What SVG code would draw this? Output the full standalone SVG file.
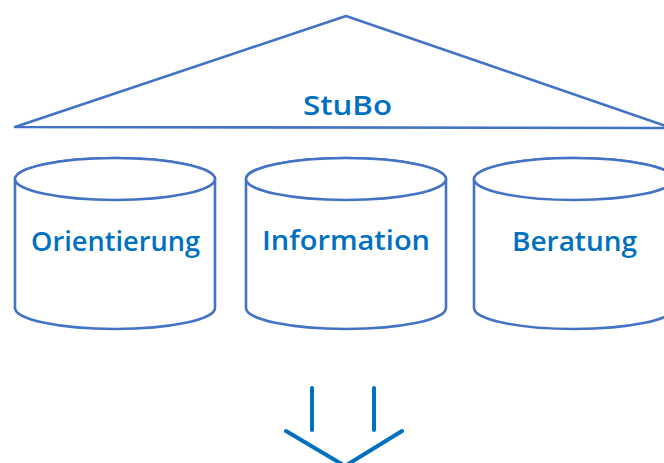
<svg xmlns="http://www.w3.org/2000/svg" width="664" height="463" viewBox="0 0 664 463">
<style>
.shape{fill:#fff;stroke:#4472c4;stroke-width:2.6;stroke-linejoin:round}
.lbl{font-family:"Open Sans","Liberation Sans",Arial,sans-serif;font-weight:600;font-size:27.5px;fill:#0070c0}
.arr{stroke:#0070c0;stroke-width:4;fill:none;stroke-linecap:round}
</style>
<rect width="664" height="463" fill="#fff"/>
<g id="stubo">
<polygon class="shape" points="346,16 15,127 672,128"/>
<text class="lbl" x="303" y="115" textLength="89" lengthAdjust="spacingAndGlyphs">StuBo</text>
</g>
<g id="orientierung">
<path class="shape" d="M15,179 L15,308 A100,21 0 0 0 215,308 L215,179 A100,21 0 0 0 15,179 Z"/>
<ellipse class="shape" cx="115" cy="179" rx="100" ry="21" fill="none"/>
<text class="lbl" x="31" y="251" textLength="169" lengthAdjust="spacingAndGlyphs">Orientierung</text>
</g>
<g id="information">
<path class="shape" d="M246,179 L246,308 A100,21 0 0 0 446,308 L446,179 A100,21 0 0 0 246,179 Z"/>
<ellipse class="shape" cx="346" cy="179" rx="100" ry="21" fill="none"/>
<text class="lbl" x="262" y="250" font-size="28.5" textLength="168" lengthAdjust="spacingAndGlyphs">Information</text>
</g>
<g id="beratung">
<path class="shape" d="M474,179 L474,308 A100,21 0 0 0 674,308 L674,179 A100,21 0 0 0 474,179 Z"/>
<ellipse class="shape" cx="574" cy="179" rx="100" ry="21" fill="none"/>
<text class="lbl" x="512" y="251" textLength="125" lengthAdjust="spacingAndGlyphs">Beratung</text>
</g>
<g id="connectors">
<line class="arr" x1="312" y1="388" x2="312" y2="430"/>
<line class="arr" x1="374" y1="388" x2="374" y2="430"/>
<polyline class="arr" points="286,431 345,466 402,431"/>
</g>
</svg>
